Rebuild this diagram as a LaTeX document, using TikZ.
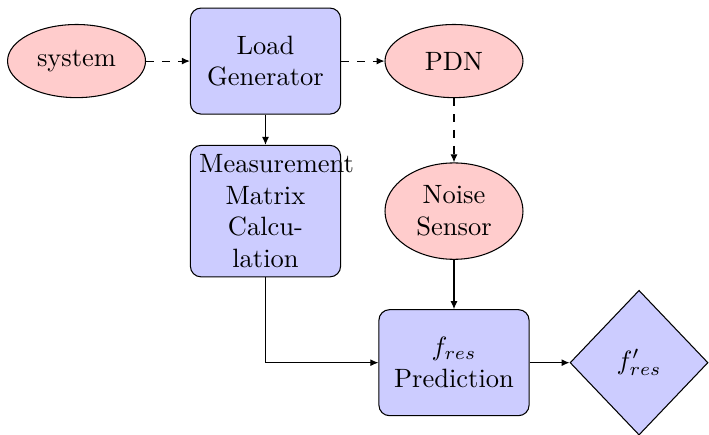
\documentclass[tikz,border=0pt]{standalone}
\usetikzlibrary{arrows.meta,shapes.geometric}
\tikzset{block/.style={draw,fill=blue!20,rounded corners,text width=5em,align=center,minimum height=4em},cloud/.style={draw,ellipse,fill=red!20,align=center,minimum width=1.83cm,minimum height=0.97cm},decision/.style={draw,diamond,fill=blue!20,inner sep=0pt,minimum width=1.83cm,minimum height=1.92cm},arr/.style={-{Latex[length=3pt,width=2.6pt]},draw}}

\begin{document}
\begin{tikzpicture}
\useasboundingbox (0,0) rectangle (9.403,-5.769);
\node[cloud] (sys) at (1.015,-0.81) {system};
\node[block] (loadgen) at (3.521,-0.81) {Load Generator};
\node[cloud] (pdn) at (6.021,-0.81) {PDN};
\node[block] (meas) at (3.521,-2.8) {Measurement Matrix Calculation};
\node[cloud] (sensor) at (6.021,-2.8) {Noise\\Sensor};
\node[block] (pred) at (6.021,-4.81) {$f_{res}$\\Prediction};
\node[decision] (fres) at (8.475,-4.81) {$f'_{res}$};
\draw[arr,dashed] (sys)--(loadgen);\draw[arr,dashed] (loadgen)--(pdn);\draw[arr,dashed] (pdn)--(sensor);
\draw[arr] (loadgen)--(meas);\draw[arr] (sensor)--(pred);
\draw[arr] (meas) |- (pred);\draw[arr] (pred)--(fres);
\end{tikzpicture}
\end{document}
